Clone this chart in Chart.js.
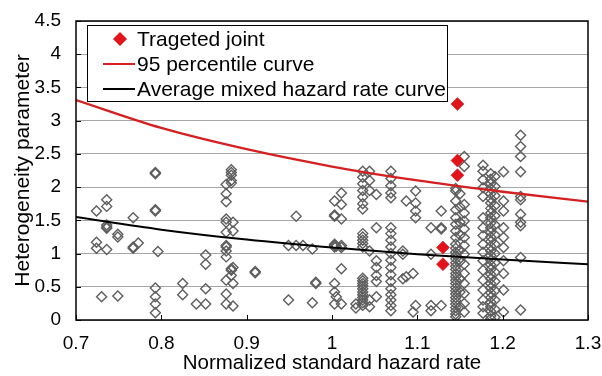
<!DOCTYPE html>
<html>
<head>
<meta charset="utf-8">
<script src="https://cdn.jsdelivr.net/npm/chart.js@4.4.1/dist/chart.umd.min.js"></script>
<style>
  html, body { margin: 0; padding: 0; background: #fff; }
  #wrap { position: relative; width: 602px; height: 376px; }
</style>
</head>
<body>
<div id="wrap"><canvas id="c" width="602" height="376"></canvas></div>
<script>
// ---- data ----
const xTicks = [0.7, 0.8, 0.9, 1.0, 1.1, 1.2, 1.3];
const yTicks = [0, 0.5, 1, 1.5, 2, 2.5, 3, 3.5, 4, 4.5];

// 95 percentile curve and average mixed hazard rate curve, read at each x tick
const curveX = [0.7, 0.8, 0.9, 1.0, 1.1, 1.2, 1.3];
const curve95 = [3.31, 2.89, 2.57, 2.31, 2.10, 1.93, 1.78];
const curveAvg = [1.55, 1.36, 1.21, 1.09, 0.99, 0.91, 0.84];

// targeted joints (red)
const targetX = [1.147, 1.147, 1.147, 1.130, 1.130];
const targetY = [3.25, 2.40, 2.18, 1.09, 0.84];

// all joints (grey hollow diamonds), grouped by column
const jointColX = [
  0.724, 0.730, 0.736, 0.749, 0.767, 0.773, 0.793, 0.796, 0.825, 0.841,
  0.852, 0.876, 0.882, 0.884, 0.910, 0.949, 0.958, 0.966, 0.977, 0.981,
  1.003, 1.005, 1.011, 1.028, 1.036, 1.044, 1.052, 1.069, 1.083, 1.087,
  1.095, 1.098, 1.116, 1.128, 1.145, 1.150, 1.155, 1.177, 1.186, 1.191,
  1.201, 1.221
];
const jointColY = [
  [1.64, 1.17, 1.08],
  [0.35],
  [1.81, 1.71, 1.43, 1.40, 1.38, 1.06],
  [1.29, 1.25, 0.36],
  [1.54, 1.10, 1.08],
  [1.16],
  [2.20, 2.22, 1.64, 1.66, 0.48, 0.35, 0.24, 0.11],
  [1.03],
  [0.55, 0.38],
  [0.24],
  [0.98, 0.84, 0.47, 0.24],
  [2.04, 1.90, 1.78, 1.52, 1.47, 1.32, 1.12, 1.10, 1.04, 0.95, 0.60, 0.39, 0.24],
  [2.26, 2.22, 2.18, 2.10, 2.06, 0.77, 0.75, 0.67],
  [1.47, 1.34, 0.79, 0.55, 0.21],
  [0.73, 0.71],
  [1.12, 0.30],
  [1.56, 1.12],
  [1.12],
  [1.07, 0.26],
  [0.55, 0.57],
  [1.79, 1.56, 1.58, 1.12, 1.14, 1.10, 0.55, 0.42, 0.24],
  [0.35, 1.11],
  [1.91, 1.74, 1.52, 1.09, 1.12, 0.77, 0.24],
  [0.24, 0.18],
  [2.24, 2.15, 2.05, 1.95, 1.85, 1.75, 1.67, 1.30, 1.25, 1.20, 1.15, 1.10, 0.63, 0.59, 0.55, 0.51, 0.47, 0.42, 0.38, 0.34, 0.30, 0.26, 0.22],
  [2.24, 2.10, 1.95, 1.04, 0.30, 0.20],
  [1.89, 1.39, 0.89, 0.79, 0.67, 0.58, 0.35],
  [2.24, 2.13, 2.02, 1.91, 1.84, 1.39, 1.30, 1.20, 1.10, 1.00, 0.90, 0.79, 0.68, 0.58, 0.47, 0.38, 0.30, 0.22, 0.14],
  [1.04, 0.99, 0.62],
  [1.79, 0.65],
  [0.70, 0.12],
  [1.94, 1.76, 1.64, 1.54, 0.22],
  [1.39, 0.99, 0.22, 0.14],
  [1.64, 1.39, 1.37, 0.22],
  [1.98, 1.94, 1.79, 1.66, 1.54, 1.44, 1.34, 1.24, 1.14, 1.08, 1.02, 0.97, 0.92, 0.86, 0.81, 0.76, 0.70, 0.65, 0.60, 0.55, 0.49, 0.44, 0.39, 0.34, 0.29, 0.24, 0.19, 0.14, 0.09, 0.05],
  [1.90, 1.70, 1.47, 1.28, 1.05, 0.88, 0.62, 0.42, 0.20],
  [2.46, 2.31, 1.74, 1.61, 1.49, 1.37, 1.24, 1.12, 0.99, 0.84, 0.70, 0.55, 0.40, 0.25, 0.12],
  [2.33, 2.24, 2.11, 1.99, 1.86, 1.54, 1.39, 1.27, 1.14, 1.02, 0.89, 0.75, 0.60, 0.45, 0.30, 0.20, 0.10],
  [2.20, 2.12, 2.05, 1.98, 1.90, 1.83, 1.76, 1.68, 1.61, 1.54, 1.46, 1.39, 1.32, 1.25, 1.18, 1.11, 1.04, 0.97, 0.90, 0.83, 0.76, 0.69, 0.62, 0.55, 0.48, 0.41, 0.34, 0.27, 0.20, 0.13, 0.06, 0.02],
  [2.16, 2.01, 1.87, 1.72, 1.57, 1.43, 1.28, 1.14, 1.00, 0.86, 0.72, 0.58, 0.44, 0.30, 0.16, 0.04],
  [2.23, 1.79, 1.64, 1.39, 1.24, 1.09, 0.89, 0.70, 0.45, 0.12],
  [2.78, 2.61, 2.46, 2.23, 1.86, 1.81, 1.59, 1.47, 1.42, 0.94, 0.15]
];

const FONT = "'Liberation Sans', Arial, sans-serif";

const jointPoints = [];
jointColX.forEach((x, i) => jointColY[i].forEach(y => jointPoints.push({ x, y })));
const targetPoints = targetX.map((x, i) => ({ x, y: targetY[i] }));
const curve95Points = curveX.map((x, i) => ({ x, y: curve95[i] }));
const curveAvgPoints = curveX.map((x, i) => ({ x, y: curveAvg[i] }));

// frame, inward tick marks and a boxed legend inside the plot
const framePlugin = {
  id: "frame",
  afterDatasetsDraw(chart) {
    const { ctx, chartArea: a, scales } = chart;
    ctx.save();
    ctx.strokeStyle = "#000";
    ctx.lineWidth = 1;
    ctx.beginPath();
    scales.x.ticks.forEach(t => {
      const px = Math.round(scales.x.getPixelForValue(t.value)) + 0.5;
      ctx.moveTo(px, a.bottom);
      ctx.lineTo(px, a.bottom - 5);
    });
    scales.y.ticks.forEach(t => {
      const py = Math.round(scales.y.getPixelForValue(t.value)) + 0.5;
      ctx.moveTo(a.left, py);
      ctx.lineTo(a.left + 5, py);
    });
    ctx.stroke();
    ctx.lineWidth = 1.5;
    ctx.strokeRect(a.left, a.top, a.right - a.left, a.bottom - a.top);
    ctx.restore();
  },
  afterDraw(chart) {
    const { ctx, chartArea: a } = chart;
    const ds = chart.data.datasets;
    const bx = a.left + 11, by = a.top + 4, bw = 360, bh = 76;
    ctx.save();
    ctx.fillStyle = "#fff";
    ctx.fillRect(bx, by, bw, bh);
    ctx.strokeStyle = "#000";
    ctx.lineWidth = 1;
    ctx.strokeRect(bx + 0.5, by + 0.5, bw, bh);
    ctx.font = "21px " + FONT;
    ctx.textBaseline = "middle";
    const rows = [by + 14, by + 39, by + 64];
    // targeted joint marker
    ctx.fillStyle = ds[0].backgroundColor;
    ctx.beginPath();
    ctx.moveTo(bx + 33, rows[0] - 7); ctx.lineTo(bx + 40, rows[0]);
    ctx.lineTo(bx + 33, rows[0] + 7); ctx.lineTo(bx + 26, rows[0]);
    ctx.closePath(); ctx.fill();
    [1, 2].forEach(k => {
      ctx.strokeStyle = ds[k].borderColor;
      ctx.lineWidth = 2;
      ctx.beginPath();
      ctx.moveTo(bx + 16, rows[k]);
      ctx.lineTo(bx + 48, rows[k]);
      ctx.stroke();
    });
    ctx.fillStyle = "#000";
    [0, 1, 2].forEach(k => ctx.fillText(ds[k].label, bx + 50, rows[k] + 1));
    ctx.restore();
  }
};

new Chart(document.getElementById("c"), {
  type: "scatter",
  data: {
    datasets: [
      {
        label: "Trageted joint",
        data: targetPoints,
        pointStyle: "rectRot",
        pointRadius: 6.5,
        backgroundColor: "#e3131b",
        borderColor: "#c40f16",
        borderWidth: 0.5
      },
      {
        label: "95 percentile curve",
        data: curve95Points,
        showLine: true,
        cubicInterpolationMode: "monotone",
        borderColor: "#d42020",
        borderWidth: 2.3,
        pointRadius: 0
      },
      {
        label: "Average mixed hazard rate curve",
        data: curveAvgPoints,
        showLine: true,
        cubicInterpolationMode: "monotone",
        borderColor: "#000",
        borderWidth: 2,
        pointRadius: 0
      },
      {
        label: "Joints",
        data: jointPoints,
        pointStyle: "rectRot",
        pointRadius: 5,
        backgroundColor: "rgba(0,0,0,0)",
        borderColor: "#5e5e5e",
        borderWidth: 1.4
      }
    ]
  },
  options: {
    responsive: false,
    animation: false,
    layout: { padding: { top: 21, right: 14, left: 0, bottom: 0 } },
    plugins: { legend: { display: false }, tooltip: { enabled: false } },
    scales: {
      x: {
        type: "linear",
        min: xTicks[0],
        max: xTicks[xTicks.length - 1],
        afterBuildTicks: s => { s.ticks = xTicks.map(v => ({ value: v })); },
        grid: { display: false, drawTicks: false },
        border: { display: false },
        ticks: { color: "#000", font: { family: FONT, size: 19 }, padding: 12, callback: v => String(v) },
        title: { display: true, text: "Normalized standard hazard rate", color: "#000", font: { family: FONT, size: 20.5 }, padding: { top: 0, bottom: 0 } },
        afterFit: s => { s.height = 56; s.paddingLeft = 0; s.paddingRight = 0; }
      },
      y: {
        type: "linear",
        min: yTicks[0],
        max: yTicks[yTicks.length - 1],
        afterBuildTicks: s => { s.ticks = yTicks.map(v => ({ value: v })); },
        grid: { color: "#a6a6a6", lineWidth: 1, drawTicks: false },
        border: { display: false },
        ticks: { color: "#000", font: { family: FONT, size: 19 }, padding: 15, callback: v => String(v) },
        title: { display: true, text: "Heterogeneity parameter", color: "#000", font: { family: FONT, size: 21 }, padding: { top: 11, bottom: 0 } },
        afterFit: s => { s.width = 76; s.paddingTop = 0; s.paddingBottom = 0; }
      }
    }
  },
  plugins: [framePlugin]
});
</script>
</body>
</html>
